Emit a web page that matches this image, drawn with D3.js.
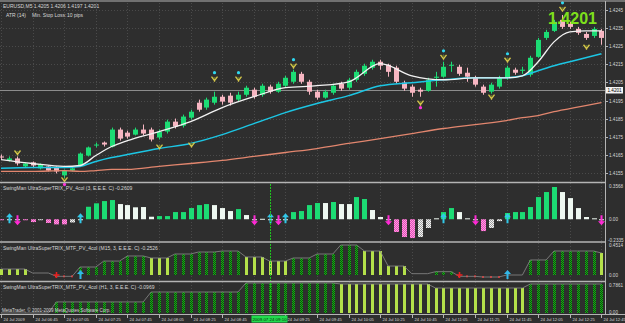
<!DOCTYPE html>
<html>
<head>
<meta charset="utf-8">
<script src="https://cdn.jsdelivr.net/npm/d3@7"></script>
<style>
body{margin:0;background:#2e2e2e;overflow:hidden}
svg{display:block;font-family:"Liberation Sans",Arial,sans-serif}
</style>
</head>
<body>
<script>
// EURUSD M5, bar 0 = 24 Jul 2009 06:25, last bar = 12:45
var openP  = [1.41640,1.41618,1.41629,1.41585,1.41607,1.41574,1.41585,1.41579,1.41535,1.41562,
              1.41590,1.41645,1.41701,1.41717,1.41695,1.41789,1.41772,1.41761,1.41789,1.41789,
              1.41745,1.41778,1.41833,1.41811,1.41855,1.41938,1.41911,1.41938,1.41971,1.41977,
              1.41955,1.41982,1.42010,1.41982,1.42027,1.41999,1.42032,1.42054,1.42098,1.42054,
              1.41999,1.41966,1.41993,1.42043,1.42021,1.42065,1.42098,1.42132,1.42165,1.42148,
              1.42132,1.42049,1.42027,1.42010,1.42004,1.42076,1.42082,1.42143,1.42137,1.42104,
              1.42076,1.42027,1.41999,1.42027,1.42076,1.42121,1.42115,1.42093,1.42192,1.42297,
              1.42336,1.42397,1.42375,1.42347,1.42319,1.42308,1.42336]
var highP  = [1.41651,1.41640,1.41640,1.41607,1.41612,1.41601,1.41590,1.41585,1.41568,1.41579,
              1.41662,1.41695,1.41717,1.41723,1.41800,1.41800,1.41783,1.41800,1.41817,1.41800,
              1.41789,1.41844,1.41850,1.41872,1.41899,1.41955,1.41966,1.41999,1.41982,1.41993,
              1.41999,1.42032,1.42021,1.42043,1.42038,1.42054,1.42087,1.42121,1.42109,1.42065,
              1.42010,1.42010,1.42043,1.42054,1.42076,1.42121,1.42154,1.42176,1.42176,1.42154,
              1.42143,1.42060,1.42038,1.42021,1.42076,1.42109,1.42165,1.42165,1.42148,1.42132,
              1.42087,1.42038,1.42049,1.42087,1.42143,1.42132,1.42137,1.42198,1.42297,1.42342,
              1.42397,1.42424,1.42386,1.42358,1.42330,1.42358,1.42347]
var lowP   = [1.41623,1.41612,1.41590,1.41579,1.41579,1.41568,1.41557,1.41546,1.41518,1.41557,
              1.41585,1.41640,1.41690,1.41695,1.41690,1.41728,1.41739,1.41756,1.41756,1.41723,
              1.41734,1.41767,1.41795,1.41800,1.41844,1.41888,1.41899,1.41927,1.41927,1.41922,
              1.41944,1.41971,1.41960,1.41971,1.41988,1.41993,1.42021,1.42043,1.42043,1.41982,
              1.41955,1.41960,1.41982,1.42004,1.42010,1.42054,1.42087,1.42121,1.42121,1.42082,
              1.42043,1.42004,1.41971,1.41971,1.41999,1.42027,1.42076,1.42109,1.42087,1.42054,
              1.42027,1.41982,1.41988,1.42016,1.42065,1.42093,1.42098,1.42082,1.42187,1.42286,
              1.42330,1.42347,1.42347,1.42314,1.42286,1.42297,1.42259]
var closeP = [1.41634,1.41629,1.41601,1.41601,1.41590,1.41596,1.41562,1.41557,1.41562,1.41574,
              1.41656,1.41690,1.41706,1.41706,1.41789,1.41739,1.41750,1.41789,1.41767,1.41734,
              1.41778,1.41833,1.41806,1.41861,1.41888,1.41899,1.41955,1.41971,1.41944,1.41938,
              1.41982,1.42021,1.41971,1.42032,1.41999,1.42043,1.42076,1.42109,1.42054,1.41999,
              1.41966,1.41999,1.42032,1.42016,1.42065,1.42109,1.42143,1.42165,1.42143,1.42109,
              1.42054,1.42016,1.41993,1.41999,1.42065,1.42082,1.42137,1.42148,1.42098,1.42082,
              1.42038,1.41993,1.42038,1.42076,1.42132,1.42104,1.42121,1.42187,1.42286,1.42330,
              1.42386,1.42358,1.42358,1.42325,1.42297,1.42347,1.42297]

// moving averages, read at these bars
var maIdx    = [0,4,8,10,12,14,16,20,24,28,32,36,40,44,48,52,56,60,64,66,68,70,72,74,76]
var maWhite  = [1.41623,1.41601,1.41585,1.41590,1.41645,1.41695,1.41728,1.41778,1.41833,1.41911,1.41971,1.42021,1.42032,
                1.42054,1.42154,1.42087,1.42065,1.42076,1.42076,1.42087,1.42165,1.42275,1.42330,1.42336,1.42336]
var maCyan   = [1.41574,1.41579,1.41579,1.41585,1.41612,1.41634,1.41651,1.41684,1.41712,1.41761,1.41822,1.41883,1.41933,
                1.41977,1.42032,1.42049,1.42065,1.42076,1.42076,1.42087,1.42115,1.42143,1.42165,1.42187,1.42209]
var maSalmon = [1.41557,1.41557,1.41562,1.41557,1.41562,1.41568,1.41568,1.41585,1.41601,1.41618,1.41640,1.41662,1.41684,
                1.41712,1.41739,1.41767,1.41795,1.41817,1.41839,1.41855,1.41866,1.41888,1.41905,1.41922,1.41938]

// signal arrows on the price chart
var sigIdx   = [2,8,20,24,27,30,37,53,56,62,64,71,74]
var sigPrice = [1.41662,1.41513,1.41695,1.41706,1.42071,1.42071,1.42143,1.41938,1.42192,1.41971,1.42176,1.42458,1.42248]
var sigDot   = ["","m","","","c","c","c","m","c","","c","c",""]

var priceTicks = [1.4155,1.4165,1.4175,1.4185,1.4195,1.4205,1.4215,1.4225,1.4235,1.4245]
var lastPrice = 1.4201

// UltraSuperTRIX_PV histogram
var trixVal = [-0.01,0,0,-0.01,-0.03,-0.01,-0.04,-0.055,-0.055,-0.035,
               0,0.134,0.171,0.195,0.206,0.163,0.152,0.128,0.131,0.027,
               0.034,0.034,0.077,0.077,0.120,0.152,0.163,0.152,0.120,0.088,
               0.109,0.045,0,0.005,0,0,0,0.077,0.088,0.152,
               0.174,0.174,0.185,0.163,0.163,0.238,0.217,0.099,0.024,0,
               -0.137,-0.191,-0.202,-0.191,-0.094,0.01,0.077,0.120,0.077,0.01,
               0,-0.127,-0.094,-0.02,0.067,0.077,0.077,0.131,0.238,0.292,
               0.346,0.292,0.227,0.120,0.024,0.01,0]
var trixCol = ["m","w","w","m","m","w","m","m","m","w",
               "w","g","g","g","g","w","w","w","w","w",
               "g","g","g","g","g","g","g","w","w","w",
               "g","w","w","w","w","w","w","g","g","g",
               "g","w","g","w","w","g","g","w","w","w",
               "m","m","m","w","w","w","g","g","w","w",
               "w","m","w","w","g","g","g","g","g","g",
               "g","w","w","w","w","w","w"]
var trixUp = [1,10,34,36,56,64]
var trixDn = [2,32,35,49,60,76]

// MTF M15 (groups of 3 bars)
var m15Start = [0,1,4,7,10,13,16,19,22,25,28,31,34,37,40,43,46,49,52,55,58,61,64,67,70,73,76]
var m15Val   = [0.09,0.09,0.03,-0.02,0.12,0.21,0.286,0.256,0.316,0.346,0.361,0.271,0.21,0.256,0.316,0.451,0.361,0.135,
                0.02,0.05,-0.02,-0.03,0.0,0.226,0.361,0.361,0.331]
var m15Col   = ["yg","yg","gray","red","dg","dg","dg","yg","dg","dg","dg","yg","yg","dg","dg","dg","yg","yg",
                "gray","dg","red","red","gray","dg","dg","dg","yg"]
var m15Cross = [7,58]
var m15Up    = [10,64]

// MTF H1 (groups of 12 bars)
var h1Start = [0,7,19,31,43,55,67]
var h1Val   = [0,0.29,0.55,0.786,0.76,0.655,0.76]
var h1Col   = ["gray","dg","dg","dg","yg","yg","dg"]

// the 09:05 label sits under the cursor date box
var timeIdx    = [0,4,8,12,16,20,24,28,36,40,44,48,52,56,60,64,68,72,76]
var timeLabels = ["24 Jul 2009","24 Jul 06:45","24 Jul 07:05","24 Jul 07:25","24 Jul 07:45","24 Jul 08:05",
                  "24 Jul 08:25","24 Jul 08:45","24 Jul 09:25","24 Jul 09:45","24 Jul 10:05",
                  "24 Jul 10:25","24 Jul 10:45","24 Jul 11:05","24 Jul 11:25","24 Jul 11:45","24 Jul 12:05",
                  "24 Jul 12:25","24 Jul 12:45"]
var cursorIdx = 34

var upCol = "#1cdc74", dnCol = "#f7b6c2", textCol = "#d6d6d6"

var svg = d3.select("body").append("svg").attr("width",625).attr("height",323)
svg.append("rect").attr("width",625).attr("height",323).attr("fill","#2e2e2e")

var defs = svg.append("defs")
function checker(id,a,b){
  var p = defs.append("pattern").attr("id",id).attr("width",2).attr("height",2).attr("patternUnits","userSpaceOnUse")
  p.append("rect").attr("width",2).attr("height",2).attr("fill",a)
  p.append("rect").attr("width",1).attr("height",1).attr("fill",b)
  p.append("rect").attr("x",1).attr("y",1).attr("width",1).attr("height",1).attr("fill",b)
}
checker("magHatch","#e24cb8","#ff9ee0")
checker("whiteHatch","#f4f4f4","#a0a0a0")
checker("dgHatch","#19a619","#0a520a")

var x = d3.scaleLinear().domain([0,76]).range([1,601.4])
var px = function(i){ return Math.round(x(i)) + 0.5 }
var yMain = d3.scaleLinear().domain([1.4155,1.4245]).range([172.7,10.3])
var yTrix = d3.scaleLinear().domain([-0.2335,0.3568]).range([241,186])
var yM15 = d3.scaleLinear().domain([-0.03,0.4514]).range([277,245])
var yH1 = d3.scaleLinear().domain([0,0.7861]).range([313,283])

// dotted grid
var gridIdx = d3.range(0,77,4)
var grid = svg.append("g").attr("stroke","#4a4a4a").attr("stroke-dasharray","1,2")
grid.selectAll("line.v").data(gridIdx).enter().append("line")
  .attr("x1",d=>px(d)).attr("x2",d=>px(d)).attr("y1",3).attr("y2",314)
grid.selectAll("line.h").data(priceTicks).enter().append("line")
  .attr("x1",0).attr("x2",605).attr("y1",d=>Math.round(yMain(d))+0.5).attr("y2",d=>Math.round(yMain(d))+0.5)

// bid line
svg.append("line").attr("x1",0).attr("x2",605)
  .attr("y1",Math.round(yMain(lastPrice))+0.5).attr("y2",Math.round(yMain(lastPrice))+0.5)
  .attr("stroke","#8c8c8c")

// candles
var candles = openP.map(function(o,i){ return {i:i,o:o,h:highP[i],l:lowP[i],c:closeP[i]} })
var cg = svg.append("g")
cg.selectAll("line").data(candles).enter().append("line")
  .attr("x1",d=>px(d.i)).attr("x2",d=>px(d.i))
  .attr("y1",d=>yMain(d.h)).attr("y2",d=>yMain(d.l))
  .attr("stroke",d=>d.c>=d.o?upCol:dnCol)
cg.selectAll("rect").data(candles).enter().append("rect")
  .attr("x",d=>Math.round(x(d.i))-2).attr("width",5)
  .attr("y",d=>yMain(Math.max(d.o,d.c)))
  .attr("height",d=>Math.max(1,Math.abs(yMain(d.o)-yMain(d.c))))
  .attr("fill",d=>d.c>=d.o?upCol:dnCol)

// moving averages
var maLine = function(vals){
  return d3.line().x((d,k)=>x(maIdx[k])).y(d=>yMain(d)).curve(d3.curveMonotoneX)(vals)
}
svg.append("path").attr("d",maLine(maSalmon)).attr("fill","none").attr("stroke","#e2866e").attr("stroke-width",1.3)
svg.append("path").attr("d",maLine(maCyan)).attr("fill","none").attr("stroke","#1cc6e4").attr("stroke-width",1.5)
svg.append("path").attr("d",maLine(maWhite)).attr("fill","none").attr("stroke","#f2f2f2").attr("stroke-width",1.3)

// signal arrows
var sig = svg.append("g")
sigIdx.forEach(function(i,k){
  var sx = px(i), sy = yMain(sigPrice[k])
  sig.append("path").attr("d",`M${sx-3},${sy-2}L${sx},${sy+2}L${sx+3},${sy-2}M${sx},${sy+2}L${sx},${sy+3}`)
    .attr("fill","none").attr("stroke","#d6c84a").attr("stroke-width",1.3)
  sig.append("path").attr("d",`M${sx-1.5},${sy-1.5}L${sx},${sy+0.5}L${sx+1.5},${sy-1.5}Z`).attr("fill","#6f7a28")
  if(sigDot[k]=="c") sig.append("circle").attr("cx",sx).attr("cy",sy-6).attr("r",1.6).attr("fill","#2fd8f0")
  if(sigDot[k]=="m") sig.append("circle").attr("cx",sx).attr("cy",sy+5).attr("r",1.6).attr("fill","#ff33dd")
})

// big price
svg.append("text").text(lastPrice.toFixed(4)).attr("x",548).attr("y",24)
  .attr("font-size",16).attr("font-weight","bold").attr("fill","#7ee01c")

// ---- TRIX PV panel
var tg = svg.append("g")
tg.selectAll("rect").data(trixVal).enter().append("rect")
  .attr("x",(d,i)=>Math.round(x(i))-2).attr("width",5)
  .attr("y",d=>Math.min(yTrix(d),yTrix(0)))
  .attr("height",d=>Math.max(1,Math.abs(yTrix(d)-yTrix(0))))
  .attr("fill",function(d,i){
    var c = trixCol[i]
    if(c=="g") return upCol
    if(c=="m") return "url(#magHatch)"
    return d<0 ? "url(#whiteHatch)" : "#eef8f1"
  })
trixUp.forEach(function(i){
  var ax = px(i), ay = yTrix(0)
  tg.append("path").attr("d",`M${ax},${ay-6}L${ax+3.5},${ay-2}L${ax+1},${ay-2}L${ax+1},${ay+4}L${ax-1},${ay+4}L${ax-1},${ay-2}L${ax-3.5},${ay-2}Z`)
    .attr("fill","#32c8e8")
})
trixDn.forEach(function(i){
  var ax = px(i), ay = yTrix(0)
  tg.append("path").attr("d",`M${ax},${ay+6}L${ax+3.5},${ay+2}L${ax+1},${ay+2}L${ax+1},${ay-4}L${ax-1},${ay-4}L${ax-1},${ay+2}L${ax-3.5},${ay+2}Z`)
    .attr("fill","#ff2ad6")
})

// ---- MTF panels
function mtfPanel(starts,vals,cols,yS){
  var g = svg.append("g")
  var pts = []
  starts.forEach(function(s,k){
    var e = k<starts.length-1 ? starts[k+1]-1 : 76
    pts.push([x(s),yS(vals[k])],[x(e),yS(vals[k])])
    for(var i=s;i<=e;i++){
      if(cols[k]=="dg"||cols[k]=="yg"){
        g.append("rect").attr("x",Math.round(x(i))-1).attr("width",3)
          .attr("y",yS(vals[k])).attr("height",yS(0)-yS(vals[k]))
          .attr("fill",cols[k]=="dg"?"url(#dgHatch)":"#b4e04a")
      }
      if(cols[k]=="red"){
        g.append("rect").attr("x",Math.round(x(i))-1).attr("y",yS(vals[k])-1).attr("width",2).attr("height",2).attr("fill","#e02424")
      }
    }
  })
  g.append("path").attr("d",d3.line()(pts)).attr("fill","none").attr("stroke","#8a8a8a").attr("stroke-width",0.8)
  return g
}
var m15g = mtfPanel(m15Start,m15Val,m15Col,yM15)
m15Cross.forEach(function(i){
  var cx = px(i), cy = yM15(0)
  m15g.append("path").attr("d",`M${cx-3},${cy}L${cx+3},${cy}M${cx},${cy-3}L${cx},${cy+3}`).attr("stroke","#e82020").attr("stroke-width",1.6)
})
m15Up.forEach(function(i){
  var ax = px(i), ay = yM15(0)
  m15g.append("path").attr("d",`M${ax},${ay-5}L${ax+3.5},${ay-1}L${ax+1},${ay-1}L${ax+1},${ay+4}L${ax-1},${ay+4}L${ax-1},${ay-1}L${ax-3.5},${ay-1}Z`)
    .attr("fill","#32b8e8")
})
mtfPanel(h1Start,h1Val,h1Col,yH1)

// cursor line in the indicator panels
svg.append("line").attr("x1",px(cursorIdx)).attr("x2",px(cursorIdx)).attr("y1",184).attr("y2",314)
  .attr("stroke","#1fc41f").attr("stroke-dasharray","2,1")

// frame / separators
var frame = svg.append("g").attr("stroke","#b4b4b4")
frame.append("line").attr("x1",0).attr("x2",625).attr("y1",1).attr("y2",1)
;[182.5,242,281.5].forEach(function(yy){
  frame.append("line").attr("x1",0).attr("x2",606).attr("y1",yy).attr("y2",yy).attr("stroke-width",1.5)
})
frame.append("line").attr("x1",0).attr("x2",625).attr("y1",314.5).attr("y2",314.5)
frame.append("line").attr("x1",605.5).attr("x2",605.5).attr("y1",1).attr("y2",314.5)

// price axis
var ax = svg.append("g").attr("font-size",4.6).attr("fill",textCol)
priceTicks.forEach(function(p){
  var yy = Math.round(yMain(p))
  ax.append("line").attr("x1",605).attr("x2",608).attr("y1",yy+0.5).attr("y2",yy+0.5).attr("stroke","#b4b4b4")
  ax.append("text").text(p.toFixed(4)).attr("x",609).attr("y",yy+1.8)
})
var by = Math.round(yMain(lastPrice))
svg.append("rect").attr("x",606).attr("y",by-3).attr("width",17).attr("height",6.5).attr("fill","#f4f4f4")
svg.append("text").text(lastPrice.toFixed(4)).attr("x",607.5).attr("y",by+1.8).attr("font-size",4.6).attr("fill","#000")

// indicator scale labels
var il = svg.append("g").attr("font-size",4.6).attr("fill",textCol)
il.append("text").text("0.3568").attr("x",609).attr("y",yTrix(0.3568)+2)
il.append("text").text("0.00").attr("x",609).attr("y",yTrix(0)+1.8)
il.append("text").text("-0.2335").attr("x",608).attr("y",yTrix(-0.2335)+0.5)
il.append("text").text("0.4514").attr("x",609).attr("y",yM15(0.4514)+1.8)
il.append("text").text("0.00").attr("x",609).attr("y",yM15(0)+1.8)
il.append("text").text("0.7861").attr("x",609).attr("y",yH1(0.7861)+3.5)
il.append("text").text("0.00").attr("x",609).attr("y",yH1(0)+0.5)

// time axis
var tx = svg.append("g").attr("font-size",4.1).attr("fill",textCol)
timeIdx.forEach(function(i,k){
  tx.append("line").attr("x1",px(i)).attr("x2",px(i)).attr("y1",314).attr("y2",318).attr("stroke","#b4b4b4")
  tx.append("text").text(timeLabels[k]).attr("x",px(i)+2).attr("y",321)
})
svg.append("rect").attr("x",px(cursorIdx)-19).attr("y",315.5).attr("width",36).attr("height",7).attr("fill","#22dc4e")
svg.append("text").text("2009.07.24 09:10").attr("x",px(cursorIdx)-1).attr("y",321).attr("text-anchor","middle")
  .attr("font-size",4.4).attr("fill","#0a2a0a")

// titles
var tt = svg.append("g").attr("fill",textCol).attr("font-size",5)
tt.append("text").text("EURUSD,M5  1.4205 1.4206 1.4197 1.4201").attr("x",3).attr("y",7.5)
tt.append("text").text("ATR (14)").attr("x",6).attr("y",16.5)
tt.append("text").text("Min. Stop Loss:").attr("x",32).attr("y",16.5)
tt.append("text").text("10 pips").attr("x",67).attr("y",16.5)
tt.append("text").text("SwingMan UltraSuperTRIX_PV_4col (3, E.E.E. C) -0.2609").attr("x",3).attr("y",190)
tt.append("text").text("SwingMan UltraSuperTRIX_MTF_PV_4col (M15, 3, E.E.E. C) -0.2526").attr("x",3).attr("y",250)
tt.append("text").text("SwingMan UltraSuperTRIX_MTF_PV_4col (H1, 3, E.E.E. C) -0.0969").attr("x",3).attr("y",289)
tt.append("text").text("MetaTrader, \u00a9 2001-2009 MetaQuotes Software Corp.").attr("x",2).attr("y",312).attr("font-size",4.5)
</script>
</body>
</html>
